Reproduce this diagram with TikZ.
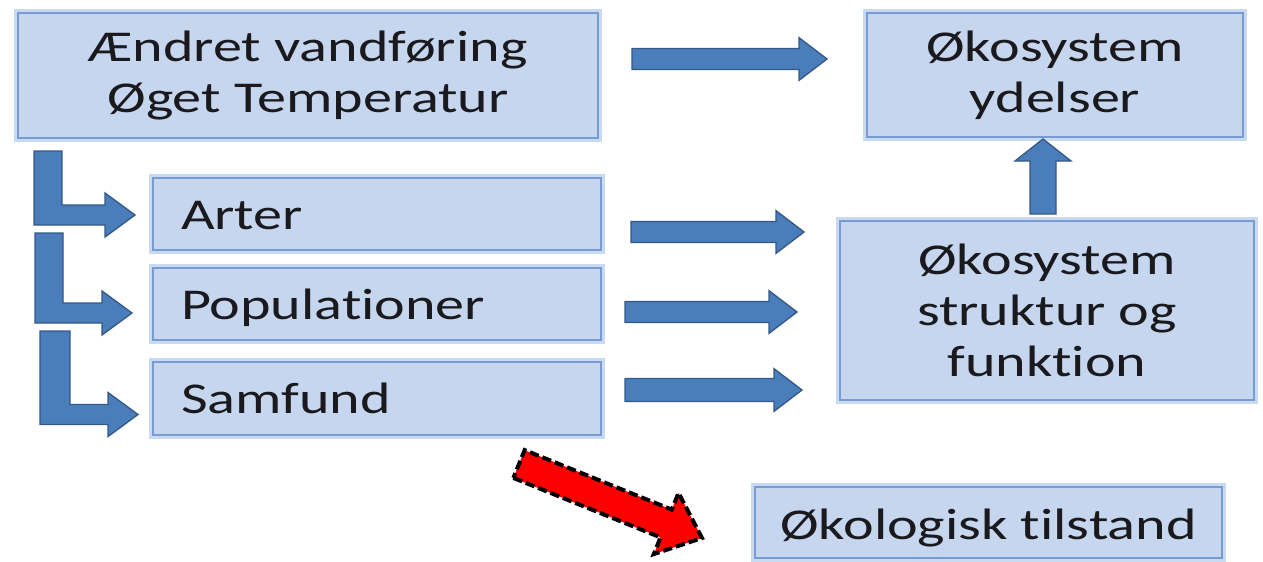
\documentclass[tikz,border=0pt]{standalone}
\usepackage{fontspec}
\setmainfont{Carlito}[FakeStretch=1.32, Ligatures=NoCommon]
\usetikzlibrary{calc}

\definecolor{boxfill}{RGB}{198,214,238}
\definecolor{boxline}{RGB}{120,155,210}
\definecolor{boxglow}{RGB}{200,218,242}
\definecolor{arrowfill}{RGB}{74,126,187}
\definecolor{arrowline}{RGB}{52,88,135}
\definecolor{textcol}{RGB}{25,25,30}

\tikzset{every picture/.style={line width=0.75pt}}
\tikzset{
  box/.style={draw=boxline, fill=boxfill, line width=1.5pt, preaction={draw=boxglow, line width=6pt},
    text=textcol, font=\fontsize{33}{38}\selectfont, inner sep=0pt, align=center},
  listbox/.style={box, align=left, inner xsep=21pt, text width=294pt, text height=22.5pt, text depth=0pt},
  shaft/.store in=\arshaft, head/.store in=\arhead, headlen/.store in=\arheadlen, bar/.store in=\arbar,
  blockarrow/.style={draw=arrowline, fill=arrowfill, line width=1pt, shaft=7.9pt, head=16pt, headlen=21pt},
  elbowarrow/.style={blockarrow, bar=10.5pt, shaft=7.5pt, head=16.5pt, headlen=22.5pt},
  redarrow/.style={blockarrow, fill=red, draw=black, line width=3pt, dash pattern=on 7pt off 3pt,
    shaft=11.25pt, head=24.75pt, headlen=29pt},
}
% block arrow from #2 to #3
\newcommand\drawblock[3][]{%
  \draw[blockarrow,#1] ($(#2)!\arshaft!90:(#3)$) -- ($(#3)!\arheadlen!(#2)!\arshaft!-90:(#2)$)
    -- ($(#3)!\arheadlen!(#2)!\arhead!-90:(#2)$) -- (#3) -- ($(#3)!\arheadlen!(#2)!\arhead!90:(#2)$)
    -- ($(#3)!\arheadlen!(#2)!\arshaft!90:(#2)$) -- ($(#2)!\arshaft!-90:(#3)$) -- cycle;}
% bent arrow: down from #2, then right to the tip #3
\newcommand\drawelbow[3][]{%
  \draw[elbowarrow,#1] ($(#2)+(-\arbar,0pt)$) -- ($(#2)+(\arbar,0pt)$) -- ($(#2|-#3)+(\arbar,-\arshaft)$)
    -- ($(#3)+(-\arheadlen,-\arshaft)$) -- ($(#3)+(-\arheadlen,-\arhead)$) -- (#3)
    -- ($(#3)+(-\arheadlen,\arhead)$) -- ($(#3)+(-\arheadlen,\arshaft)$) -- ($(#2|-#3)+(-\arbar,\arshaft)$) -- cycle;}

\begin{document}
\begin{tikzpicture}[x=0.75pt,y=0.75pt,yscale=-1,xscale=1]
\useasboundingbox (0,0) rectangle (1263,561);

% Text Node
\node[box, minimum width=435pt, minimum height=93.75pt] (change) at (308,75.5) {Ændret vandføring\\Øget Temperatur};
% Text Node
\node[box, minimum width=282pt, minimum height=93pt] (services) at (1055,75) {Økosystem\\ydelser};
% Text Node
\node[listbox, minimum height=54pt] (arter) at (377,214) {Arter};
% Text Node
\node[listbox, minimum height=54pt] (pop) at (377,304) {Populationer};
% Text Node
\node[listbox, minimum height=54.75pt] (samfund) at (377,398.5) {Samfund};
% Text Node
\node[box, minimum width=310.5pt, minimum height=134.25pt] (struktur) at (1047,310.5) {Økosystem\\struktur og\\funktion};
% Text Node
\node[box, minimum width=350.25pt, minimum height=53.25pt, text height=26pt, text depth=0pt] (tilstand) at (988.5,522.5) {Økologisk tilstand};

% arrow ends
\coordinate (elb1) at ($(change.south west)+(31,12)$);
\coordinate (elb1tip) at ($(arter.west)+(-17,1)$);
\coordinate (elb2) at ($(arter.south west)+(-103,-18)$);
\coordinate (elb2tip) at ($(pop.west)+(-20,9)$);
\coordinate (elb3) at ($(pop.south west)+(-97,-10)$);
\coordinate (elb3tip) at ($(samfund.west)+(-14,16)$);
\coordinate (topA) at ($(change.east)+(33,-16.5)$);
\coordinate (topB) at ($(services.west)+(-39,-16)$);
\coordinate (arterA) at ($(arter.east)+(29,18)$);
\coordinate (arterB) at ($(struktur.west)+(-35,-78.5)$);
\coordinate (popA) at ($(pop.east)+(23,8)$);
\coordinate (popB) at ($(struktur.west)+(-42,1.5)$);
\coordinate (samfA) at ($(samfund.east)+(23,-8.5)$);
\coordinate (samfB) at ($(struktur.west)+(-37,79.5)$);
\coordinate (upA) at ($(struktur.north)+(-4,-6)$);
\coordinate (upB) at ($(services.south)+(-12,1)$);
\coordinate (redA) at ($(samfund.south east)+(-83,28)$);
\coordinate (redB) at ($(tilstand.west)+(-52,15.5)$);

% Connection
\drawelbow{elb1}{elb1tip}
% Connection
\drawelbow{elb2}{elb2tip}
% Connection
\drawelbow[bar=11.25pt]{elb3}{elb3tip}
% Connection
\drawblock{topA}{topB}
% Connection
\drawblock{arterA}{arterB}
% Connection
\drawblock{popA}{popB}
% Connection
\drawblock[shaft=8.6pt]{samfA}{samfB}
% Connection
\drawblock[shaft=9.75pt, head=21pt, headlen=16.5pt]{upA}{upB}
% Connection
\drawblock[redarrow]{redA}{redB}

\end{tikzpicture}
\end{document}
